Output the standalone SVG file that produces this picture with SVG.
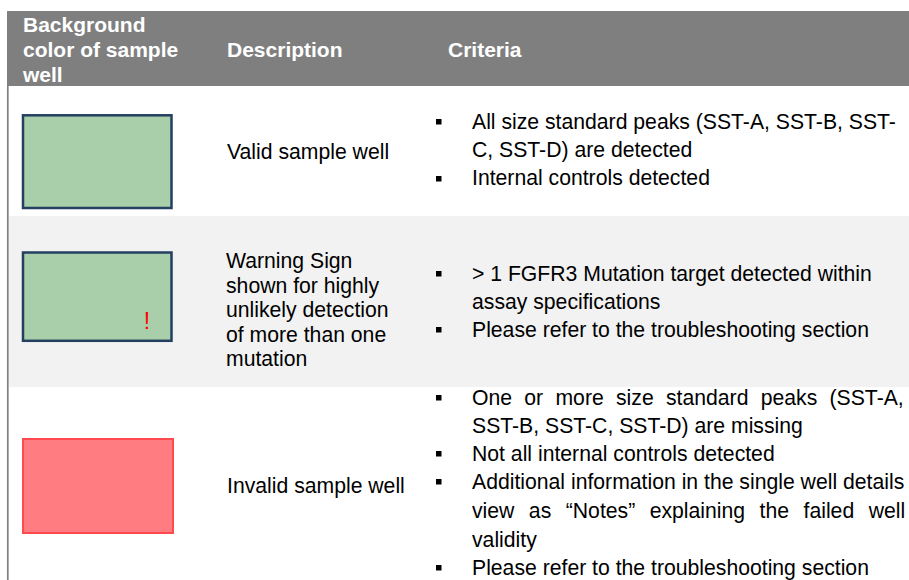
<svg xmlns="http://www.w3.org/2000/svg" width="909" height="580" viewBox="0 0 909 580">
<style>
text{font-family:"Liberation Sans",Arial,sans-serif;font-size:21.2px;fill:#000}
.hd{fill:#fff;font-weight:bold;font-size:21px}
.ok{fill:#A9CFAA;stroke:#243F60;stroke-width:2.5}
.bad{fill:#FF7C80;stroke:#FF4B4F;stroke-width:2}
.bul{fill:#000}
</style>
<defs>
<rect id="b" width="5.5" height="5.5"/>
</defs>
<rect x="0" y="0" width="909" height="580" fill="#fff"/>
<g id="table-frame">
<line x1="7.8" y1="86" x2="7.8" y2="580" stroke="#808080" stroke-width="1.7"/>
</g>
<g id="header">
<rect x="7" y="11" width="902" height="75" fill="#7F7F7F"/>
<text class="hd" x="23" y="32">Background</text>
<text class="hd" x="23" y="57">color of sample</text>
<text class="hd" x="23" y="82">well</text>
<text class="hd" x="227" y="57">Description</text>
<text class="hd" x="448" y="57">Criteria</text>
</g>
<g id="row-valid">
<rect class="ok" x="23" y="115.3" width="148.5" height="92.7"/>
<text x="227" y="159">Valid sample well</text>
<use href="#b" class="bul" x="436" y="119"/>
<use href="#b" class="bul" x="436" y="176"/>
<text x="472" y="129">All size standard peaks (SST-A, SST-B, SST-</text>
<text x="472" y="157">C, SST-D) are detected</text>
<text x="472" y="185">Internal controls detected</text>
</g>
<g id="row-warning">
<rect x="9" y="216" width="900" height="171" fill="#F2F2F2"/>
<rect class="ok" x="23" y="252.5" width="148.5" height="88.3"/>
<text x="147" y="329" text-anchor="middle" style="fill:#FF0000;font-size:23px">!</text>
<text x="226" y="268">Warning Sign</text>
<text x="226" y="292.5">shown for highly</text>
<text x="226" y="317">unlikely detection</text>
<text x="226" y="341.5">of more than one</text>
<text x="226" y="366">mutation</text>
<use href="#b" class="bul" x="436" y="271"/>
<use href="#b" class="bul" x="436" y="327"/>
<text x="472" y="281">&gt; 1 FGFR3 Mutation target detected within</text>
<text x="472" y="309">assay specifications</text>
<text x="472" y="337">Please refer to the troubleshooting section</text>
</g>
<g id="row-invalid">
<rect class="bad" x="23" y="439" width="150" height="94"/>
<text x="227" y="493">Invalid sample well</text>
<use href="#b" class="bul" x="436" y="395"/>
<use href="#b" class="bul" x="436" y="451"/>
<use href="#b" class="bul" x="436" y="479"/>
<use href="#b" class="bul" x="436" y="565"/>
<text x="472" y="405" word-spacing="6.4">One or more size standard peaks (SST-A,</text>
<text x="472" y="433">SST-B, SST-C, SST-D) are missing</text>
<text x="472" y="461">Not all internal controls detected</text>
<text x="472" y="489">Additional information in the single well details</text>
<text x="472" y="518" word-spacing="8.6">view as “Notes” explaining the failed well</text>
<text x="472" y="546.5">validity</text>
<text x="472" y="575">Please refer to the troubleshooting section</text>
</g>
<g id="connectors"/>
</svg>
